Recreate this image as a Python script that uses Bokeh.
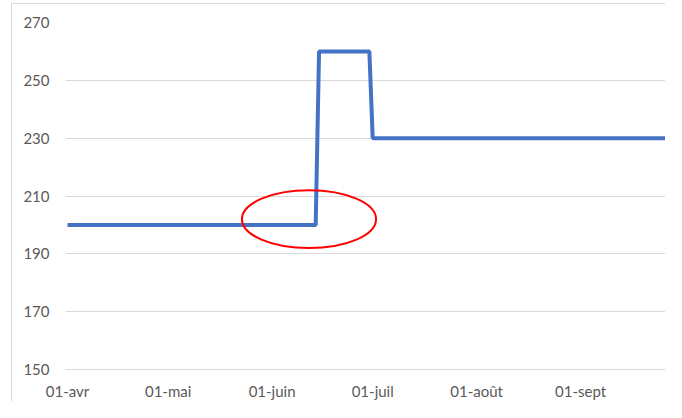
import pandas as pd
from bokeh.plotting import figure
from bokeh.models import Range1d, FixedTicker
from bokeh.embed import file_html
from bokeh.resources import INLINE

# data
dates = ["2019-04-01", "2019-06-14", "2019-06-15", "2019-06-30", "2019-07-01", "2019-09-30"]
values = [200, 200, 260, 260, 230, 230]

tick_dates = ["2019-04-01", "2019-05-01", "2019-06-01", "2019-07-01", "2019-08-01", "2019-09-01"]
tick_labels = ["01-avr", "01-mai", "01-juin", "01-juil", "01-août", "01-sept"]
y_ticks = [150, 170, 190, 210, 230, 250, 270]

# highlighted region (red ellipse)
ellipse_center_date = "2019-06-12"
ellipse_center_value = 202
ellipse_width_days = 40
ellipse_height_value = 20

DAY = 86400000.0
x = [pd.Timestamp(d) for d in dates]
t0 = pd.Timestamp(tick_dates[0]).value / 1e6

p = figure(width=654, height=398, x_axis_type="datetime",
           output_backend="svg", toolbar_location=None,
           min_border_left=53, min_border_right=0, min_border_top=18, min_border_bottom=31,
           margin=(3, 0, 0, 11))
p.styles = {"border-left": "1px solid #d9d9d9", "border-top": "1px solid #d9d9d9"}
p.outline_line_color = None
p.background_fill_color = "white"
p.border_fill_color = "white"

p.x_range = Range1d(t0 - 0.6 * DAY, t0 + 178.6 * DAY)
p.y_range = Range1d(150, 270)

tick_ms = [int(pd.Timestamp(d).value // 10**6) for d in tick_dates]
p.xaxis.ticker = FixedTicker(ticks=tick_ms)
p.xaxis.major_label_overrides = {t: l for t, l in zip(tick_ms, tick_labels)}
p.yaxis.ticker = FixedTicker(ticks=y_ticks)

for ax in (p.xaxis, p.yaxis):
    ax.major_tick_line_color = None
    ax.minor_tick_line_color = None
    ax.major_tick_out = 0
    ax.major_tick_in = 0
    ax.major_label_text_font = "Lato"
    ax.major_label_text_font_size = "15px"
    ax.major_label_text_color = "#595959"
p.yaxis.axis_line_color = None
p.xaxis.axis_line_color = "#d9d9d9"
p.yaxis.major_label_standoff = 16
p.xaxis.major_label_standoff = 12

p.xgrid.grid_line_color = None
p.ygrid.grid_line_color = "#d9d9d9"
p.ygrid.grid_line_width = 1

p.line(x, values, line_color="#4472C4", line_width=4)

p.ellipse(x=[pd.Timestamp(ellipse_center_date)], y=[ellipse_center_value],
          width=ellipse_width_days * DAY, height=ellipse_height_value,
          fill_color=None, line_color="#FF0000", line_width=2)

open("out.html", "w").write(file_html(p, INLINE))
